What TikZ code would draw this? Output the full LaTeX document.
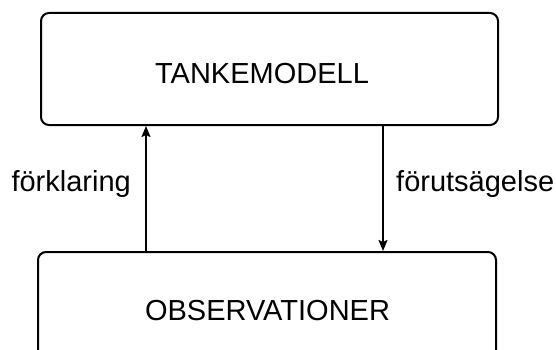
\documentclass[tikz,border=0pt]{standalone}
\usepackage{fontspec}
\setmainfont{Liberation Sans}
\usetikzlibrary{arrows.meta}
\begin{document}
\begin{tikzpicture}[x=1pt,y=-1pt,
  box/.style={draw, line width=2pt, rounded corners=8pt, inner sep=0pt},
  lbl/.style={font=\fontsize{29}{34}\selectfont, inner sep=0pt},
  conn/.style={line width=1.8pt, -{Stealth[length=11pt,width=9pt,inset=2pt]}}]
\useasboundingbox (0,0) rectangle (556,350);
\clip (0,0) rectangle (556,350);
\node[box, minimum width=457pt, minimum height=112pt] (top) at (269.5,69) {};
\node[box, minimum width=458pt, minimum height=110pt] (bot) at (267,307) {};
\node[lbl, anchor=base] (ttext) at (262,84) {TANKEMODELL};
\node[lbl, anchor=base] (btext) at (267.5,320.5) {OBSERVATIONER};
\coordinate (la) at (146,0);
\coordinate (ra) at (383,0);
\draw[conn] (bot.north -| la) -- (top.south -| la);
\draw[conn] (top.south -| ra) -- (bot.north -| ra);
\node[lbl, anchor=base east] (fl) at (131,191) {förklaring};
\node[lbl, anchor=base west] (fu) at (396,191) {förutsägelse};
\end{tikzpicture}
\end{document}
